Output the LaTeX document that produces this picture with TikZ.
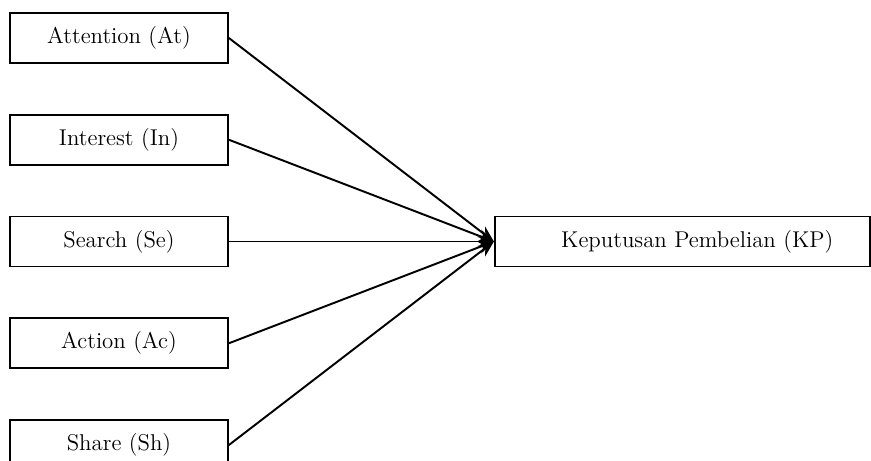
\documentclass[tikz,border=0pt]{standalone}
\usetikzlibrary{positioning, arrows.meta}

\tikzset{
    factor/.style={draw, line width=1pt, minimum width=4.36cm, minimum height=1cm,
        inner sep=0pt, font=\fontsize{13}{16}\selectfont},
    target/.style={factor, minimum width=7.5cm},
}

\begin{document}
\begin{tikzpicture}[align=center, auto, node distance=1cm]
        \useasboundingbox (-2.38,0.76) rectangle (15.04,-8.46);

        \node[factor] (at) at (0,0) {Attention (At)};
        \node[factor] (in) [below = of at] {Interest (In)};
        \node[factor] (se) [below = of in] {Search (Se)};
        \node[factor] (ac) [below = of se] {Action (Ac)};
        \node[factor] (sh) [below = of ac] {Share (Sh)};

        \node[target] (kp) [right = 5.3cm of se] {\hspace*{0.6cm}Keputusan Pembelian (KP)};

        \path[-{Stealth[length=3.2mm, width=2.6mm]}, line width=1.1pt]
            (at.east) edge (kp.west)
            (in.east) edge (kp.west)
            (se.east) edge (kp.west)
            (ac.east) edge (kp.west)
            (sh.east) edge (kp.west)
            ;
    \end{tikzpicture}
\end{document}
